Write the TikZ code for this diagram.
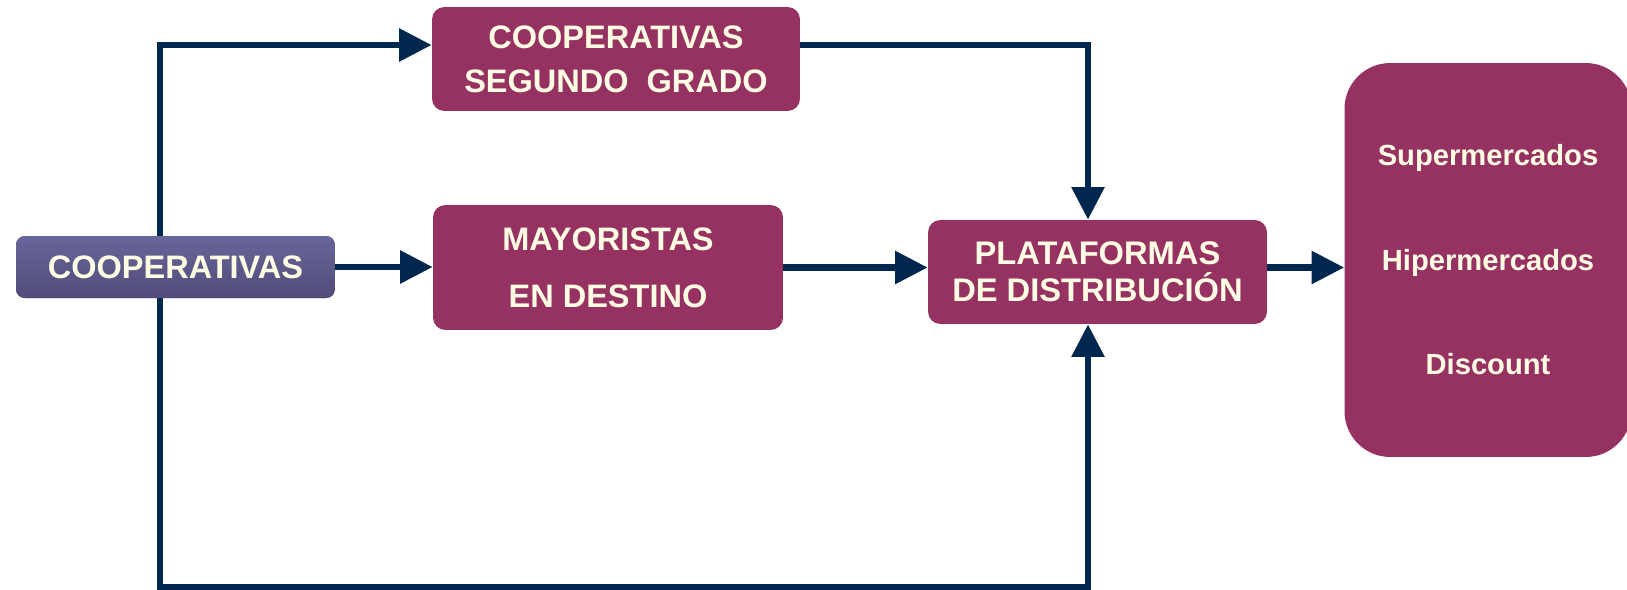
\documentclass[tikz,border=0pt]{standalone}
\usepackage{fontspec}
\setmainfont{Liberation Sans}
\usetikzlibrary{arrows.meta}
\definecolor{plum}{RGB}{150,50,98}
\definecolor{navy}{RGB}{0,40,78}
\definecolor{cream}{RGB}{255,252,228}
\definecolor{slatetop}{RGB}{104,102,155}
\definecolor{slatebot}{RGB}{82,76,120}

\begin{document}
\begin{tikzpicture}[x=0.02cm, y=-0.02cm,
  box/.style={rounded corners=7pt, fill=plum, text=cream, inner sep=0pt, align=center},
  flow/.style={draw=navy, line width=3.8pt, -{Triangle[length=18.5pt,width=18pt]}}]
  \useasboundingbox (0,0) rectangle (1627,589);

  % boxes
  \node[box, top color=slatetop, bottom color=slatebot, rounded corners=5pt,
        minimum width=6.38cm, minimum height=1.24cm,
        font=\bfseries\fontsize{18.5}{21}\selectfont] (coop) at (175.5,267) {COOPERATIVAS};
  \node[box, minimum width=7.36cm, minimum height=2.08cm,
        font=\bfseries\fontsize{18.5}{25}\selectfont] (segundo) at (616,59) {COOPERATIVAS\\SEGUNDO\ \ GRADO};
  \node[box, minimum width=7cm, minimum height=2.5cm,
        font=\bfseries\fontsize{18.5}{32.4}\selectfont] (mayor) at (608,267.5) {MAYORISTAS\\EN DESTINO};
  \node[box, minimum width=6.78cm, minimum height=2.08cm,
        font=\bfseries\fontsize{18.6}{21}\selectfont] (plat) at (1097.5,272) {PLATAFORMAS\\DE DISTRIBUCIÓN};
  \node[box, rounded corners=26pt, minimum width=5.74cm, minimum height=7.88cm,
        font=\bfseries\fontsize{16.6}{59.5}\selectfont] (retail) at (1488,260) {Supermercados\\Hipermercados\\Discount};

  % corners of the outer routes
  \coordinate (tl) at (160,45);
  \coordinate (tr) at (1088,45);
  \coordinate (bl) at (160,587);
  \coordinate (br) at (1088,587);

  % connectors
  \draw[flow] (coop.east) -- (coop.east -| mayor.west);
  \draw[flow] (mayor.east) -- (mayor.east -| plat.west);
  \draw[flow] (plat.east |- mayor.east) -- (retail.west |- mayor.east);
  \draw[flow] (tl |- coop.north) -- (tl) -- (segundo.west |- tl);
  \draw[flow] (segundo.east |- tr) -- (tr) -- (tr |- plat.north);
  \draw[flow] (bl |- coop.south) -- (bl) -- (br) -- (br |- plat.south);
\end{tikzpicture}
\end{document}
